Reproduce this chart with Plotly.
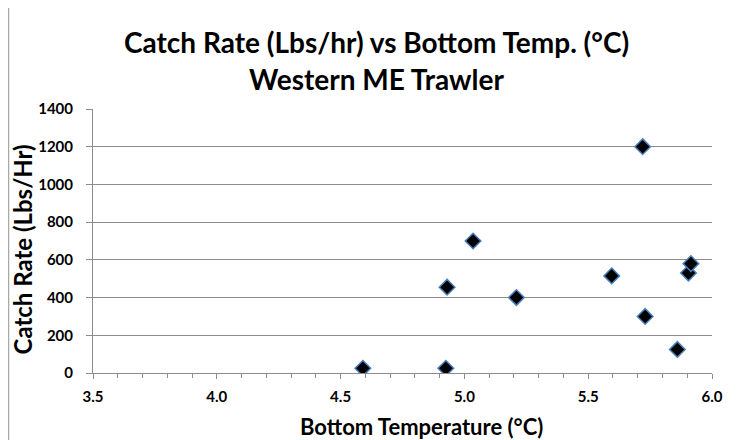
import plotly.graph_objects as go

# bottom temperature (°C) and catch rate (lbs/hr)
temps = [4.59, 4.925, 4.93, 5.035, 5.21, 5.595, 5.72, 5.73, 5.86, 5.905, 5.915]
catch = [25, 25, 455, 700, 400, 515, 1200, 300, 125, 530, 580]

x_ticks = [3.5, 4.0, 4.5, 5.0, 5.5, 6.0]
y_ticks = [0, 200, 400, 600, 800, 1000, 1200, 1400]

FONT = "Lato, 'Open Sans', Arial, sans-serif"
GRID = "#8c8c8c"

fig = go.Figure()
fig.add_trace(go.Scatter(
    x=temps, y=catch,
    mode="markers",
    marker=dict(symbol="diamond", size=12, color="black",
                line=dict(color="#4a7ebb", width=1.5)),
    showlegend=False,
))

# page has an 8px body margin, so the figure is sized/offset to land the plot area right
fig.update_layout(
    width=734, height=432,
    paper_bgcolor="white", plot_bgcolor="white",
    margin=dict(l=85, r=30, t=101, b=67),
    font=dict(family=FONT, color="black"),
    xaxis=dict(
        range=[3.5, 6.0], tickvals=x_ticks, ticktext=[f"<b>{v:.1f}</b>" for v in x_ticks],
        showgrid=False, zeroline=False, automargin=False,
        showline=True, linecolor=GRID, linewidth=1,
        ticks="outside", ticklen=5, tickcolor=GRID,
        minor=dict(dtick=0.1, ticks="outside", ticklen=4, tickcolor=GRID, showgrid=False),
        tickfont=dict(size=15, family=FONT),
        ticklabelstandoff=5,
    ),
    yaxis=dict(
        range=[0, 1400], tickvals=y_ticks, ticktext=[f"<b>{v}</b>" for v in y_ticks],
        showgrid=True, gridcolor=GRID, gridwidth=1, zeroline=False, automargin=False,
        showline=True, linecolor=GRID, linewidth=1,
        ticks="outside", ticklen=6, tickcolor=GRID,
        tickfont=dict(size=15, family=FONT),
        ticklabelstandoff=10,
    ),
    annotations=[
        dict(text="<b>Catch Rate (Lbs/hr) vs Bottom Temp. (°C)</b>", xref="paper", yref="paper",
             x=0.4588, y=1.254, xanchor="center", yanchor="middle", showarrow=False,
             font=dict(size=28, family=FONT)),
        dict(text="<b>Western ME Trawler</b>", xref="paper", yref="paper",
             x=0.4588, y=1.114, xanchor="center", yanchor="middle", showarrow=False,
             font=dict(size=28, family=FONT)),
        dict(text="<b>Catch Rate (Lbs/Hr)</b>", xref="paper", yref="paper", textangle=-90,
             x=-0.1123, y=0.4697, xanchor="center", yanchor="middle", showarrow=False,
             font=dict(size=24, family=FONT)),
        dict(text="<b>Bottom Temperature (°C)</b>", xref="paper", yref="paper",
             x=0.530, y=-0.2008, xanchor="center", yanchor="middle", showarrow=False,
             font=dict(size=22, family=FONT)),
    ],
    shapes=[
        dict(type="line", xref="paper", yref="paper", x0=-0.1365, x1=-0.1365, y0=-0.4, y1=1.5,
             line=dict(color="#a8a8a8", width=1.5)),
    ],
)

fig.write_html("out.html")
